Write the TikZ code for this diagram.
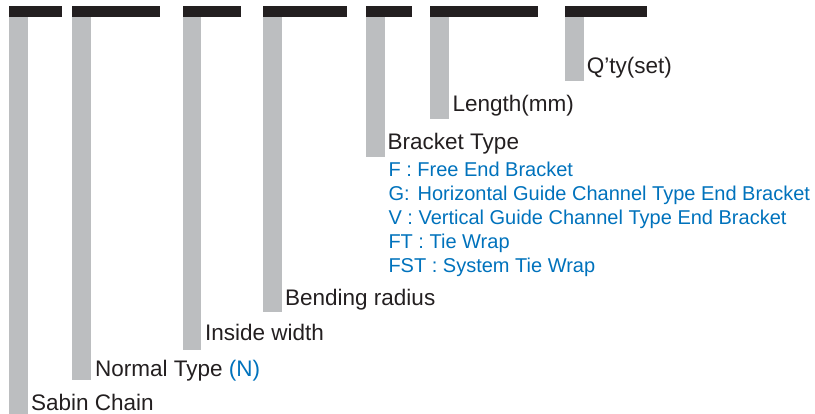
\documentclass[tikz,border=0pt]{standalone}
\usepackage{fontspec}
\setmainfont{Liberation Sans}
\usetikzlibrary{positioning}
\definecolor{capblack}{RGB}{35,31,32}
\definecolor{stemgray}{RGB}{188,190,192}
\definecolor{codeblue}{RGB}{0,114,188}
\definecolor{textdark}{RGB}{35,31,32}

\begin{document}
\begin{tikzpicture}[
    x=1pt, y=-1pt,
    capbar/.style={fill=capblack},
    stembar/.style={fill=stemgray},
    lbl/.style={anchor=base west, inner sep=0pt, text=textdark, font=\fontsize{22.5}{26}\selectfont},
    opt/.style={anchor=base west, inner sep=0pt, text=codeblue, font=\fontsize{20}{24}\selectfont}
]
\useasboundingbox (0,0) rectangle (815,414);

% Sabin Chain
\fill[capbar] (9.3,6) rectangle (62.3,16.7);
\fill[stembar] (9.3,16.7) rectangle (28.3,414);
\node[lbl] (chain) at (31,410.7) {Sabin Chain};

% Type
\fill[capbar] (72.3,6) rectangle (160,16.7);
\fill[stembar] (72.3,16.7) rectangle (91.3,380);
\node[lbl] (type) at (95,376.7) {Normal Type \textcolor{codeblue}{(N)}};

% Inside width
\fill[capbar] (182.7,6) rectangle (240.7,16.7);
\fill[stembar] (182.7,16.7) rectangle (201.3,350.5);
\node[lbl] (width) at (205,341) {Inside width};

% Bending radius
\fill[capbar] (263.3,6) rectangle (347.3,16.7);
\fill[stembar] (263.3,16.7) rectangle (282,312.3);
\node[lbl] (radius) at (285,306) {Bending radius};

% Bracket Type
\fill[capbar] (366,6) rectangle (411.7,16.7);
\fill[stembar] (366,16.7) rectangle (385,156.7);
\node[lbl] (bracket) at (387.5,149.3) {Bracket Type};
\node[opt] (optF) at (388.3,176.7) {F : Free End Bracket};
\node[opt] (optG) at (388.3,200.7) {G:\hspace{8pt}Horizontal Guide Channel Type End Bracket};
\node[opt] (optV) at (388.3,224.3) {V : Vertical Guide Channel Type End Bracket};
\node[opt] (optFT) at (388.3,248.3) {FT : Tie Wrap};
\node[opt] (optFST) at (388.3,272.7) {FST : System Tie Wrap};

% Length
\fill[capbar] (430.3,6) rectangle (537.7,16.7);
\fill[stembar] (430.3,16.7) rectangle (449,119);
\node[lbl] (length) at (452.3,111.7) {Length(mm)};

% Quantity
\fill[capbar] (564.7,6) rectangle (646.7,16.7);
\fill[stembar] (564.7,16.7) rectangle (583.7,81);
\node[lbl] (qty) at (586.7,74) {Q’ty(set)};

\end{tikzpicture}
\end{document}
